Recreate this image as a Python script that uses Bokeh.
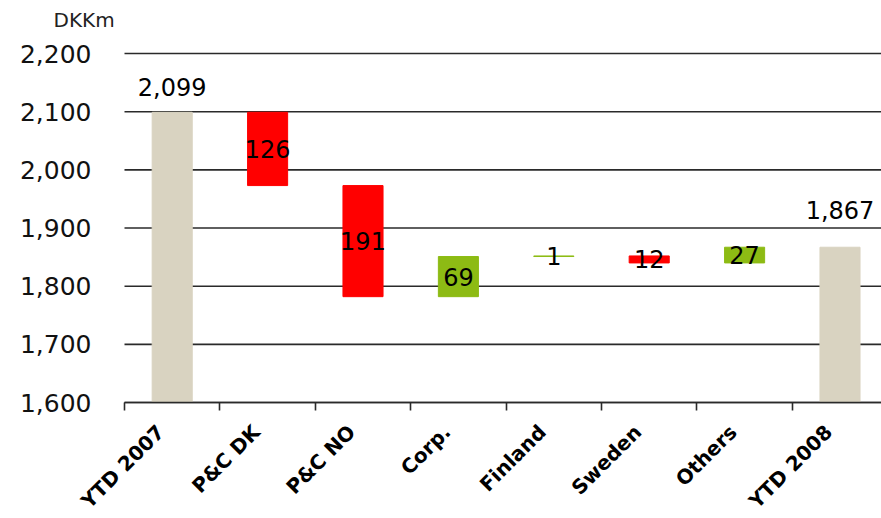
from bokeh.plotting import figure
from bokeh.models import Range1d, FixedTicker, NumeralTickFormatter, ColumnDataSource
from bokeh.embed import file_html
from bokeh.resources import INLINE
from bokeh.core.properties import value
import math

categories = ["YTD 2007", "P&C DK", "P&C NO", "Corp.", "Finland", "Sweden", "Others", "YTD 2008"]
bar_low = [1600, 1973, 1782, 1782, 1851, 1840, 1840, 1600]
bar_high = [2099, 2099, 1973, 1851, 1852, 1852, 1867, 1867]
label_text = ["2,099", "126", "191", "69", "1", "12", "27", "1,867"]
kind = ["total", "down", "down", "up", "up", "down", "up", "total"]
y_ticks = [1600, 1700, 1800, 1900, 2000, 2100, 2200]

colors = {"total": "#D9D3C1", "down": "#FF0000", "up": "#8DBB14"}
FONT = "DejaVu Sans"
X_END = 7.935

xs = [i + 0.5 for i in range(len(categories))]
src = ColumnDataSource(dict(
    x=xs, low=bar_low, high=bar_high,
    color=[colors[k] for k in kind],
))

# frame covers the whole canvas below the title; category axis starts at x=0 (124px)
p = figure(width=881, height=518, output_backend="svg", toolbar_location=None,
           x_range=Range1d(-1.2998, X_END), y_range=Range1d(1400.6, 2231),
           min_border_left=0, min_border_right=0, min_border_top=35, min_border_bottom=0)
p.outline_line_color = None
p.background_fill_color = "white"
p.xgrid.visible = False
p.ygrid.visible = False

p.title.text = "DKKm"
p.title.align = "left"
p.title.offset = 53
p.title.standoff = 8
p.title.text_font = FONT
p.title.text_font_size = "20px"
p.title.text_font_style = "normal"
p.title.text_color = "#222222"

# horizontal grid lines at the y ticks, only over the category area
p.segment(x0=0, x1=X_END, y0=y_ticks, y1=y_ticks, line_color="#2a2a2a", line_width=1.6)

p.vbar(x="x", bottom="low", top="high", width=0.42, fill_color="color",
       line_color="color", line_width=1, source=src)

# middle labels for change bars
mid_idx = [i for i, k in enumerate(kind) if k != "total"]
msrc = ColumnDataSource(dict(x=[xs[i] for i in mid_idx],
                             y=[(bar_low[i] + bar_high[i]) / 2 for i in mid_idx],
                             text=[label_text[i] for i in mid_idx]))
p.text(x="x", y="y", text="text", source=msrc, text_align="center", text_baseline="middle",
       text_font=value(FONT), text_font_size="24px", text_color="black")

p.text(x=[xs[0]], y=[bar_high[0]], text=[label_text[0]], y_offset=-25,
       text_align="center", text_baseline="alphabetic",
       text_font=value(FONT), text_font_size="24px", text_color="black")
p.text(x=[xs[7]], y=[bar_high[7]], text=[label_text[7]], y_offset=-37,
       text_align="center", text_baseline="alphabetic",
       text_font=value(FONT), text_font_size="24px", text_color="black")

# y axis pinned at x=0
p.yaxis.fixed_location = 0
p.yaxis.ticker = FixedTicker(ticks=y_ticks)
p.yaxis.formatter = NumeralTickFormatter(format="0,0")
p.yaxis.axis_line_color = None
p.yaxis.major_tick_line_color = None
p.yaxis.minor_tick_line_color = None
p.yaxis.major_label_standoff = 27
p.yaxis.major_label_text_font = FONT
p.yaxis.major_label_text_font_size = "25px"
p.yaxis.major_label_text_color = "#111111"

# x axis pinned at 1600
label_pos = [x - 0.12 for x in xs]
p.xaxis.fixed_location = 1600
p.xaxis.bounds = (0, X_END)
p.xaxis.ticker = FixedTicker(ticks=label_pos, minor_ticks=list(range(len(categories))))
p.xaxis.major_label_overrides = {x: c for x, c in zip(label_pos, categories)}
p.xaxis.major_tick_line_color = None
p.xaxis.minor_tick_line_color = "#2a2a2a"
p.xaxis.minor_tick_line_width = 1.6
p.xaxis.minor_tick_in = 0
p.xaxis.minor_tick_out = 8
p.xaxis.axis_line_color = "#2a2a2a"
p.xaxis.axis_line_width = 1.6
p.xaxis.major_label_orientation = math.pi / 4
p.xaxis.major_label_standoff = 18
p.xaxis.major_label_text_font = FONT
p.xaxis.major_label_text_font_style = "bold"
p.xaxis.major_label_text_font_size = "20px"
p.xaxis.major_label_text_color = "black"

open("out.html", "w").write(file_html(p, INLINE))
